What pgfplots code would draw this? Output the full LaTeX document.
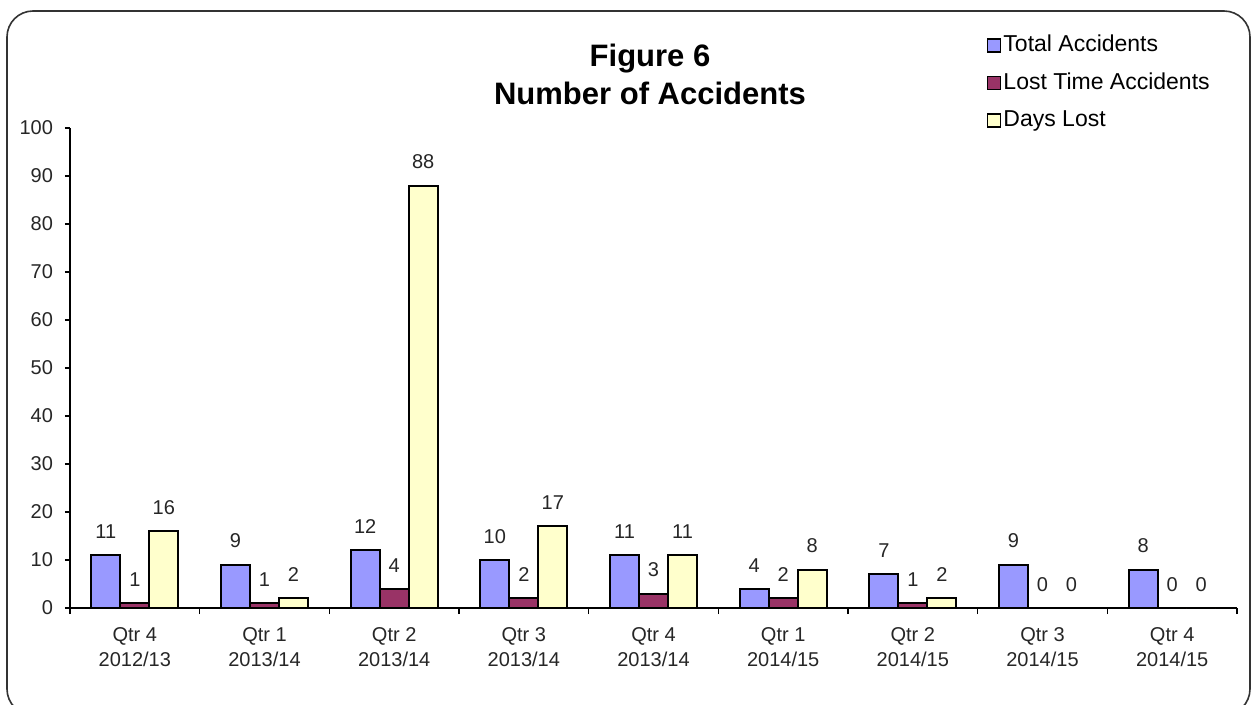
\documentclass[border=0pt]{standalone}
\usepackage{pgfplots}
\pgfplotsset{compat=1.18}
\usepackage{fontspec}
\setmainfont{Liberation Sans}
\definecolor{totalc}{HTML}{9999FF}
\definecolor{lostc}{HTML}{993366}
\definecolor{daysc}{HTML}{FFFFCC}

\begin{document}
\begin{tikzpicture}
\path[use as bounding box] (0,0) rectangle (626.5pt,-352.5pt);
% rounded outer frame
\draw[line width=0.8pt, black!80, rounded corners=13pt] (3.5pt,-5.5pt) rectangle (625pt,-357.5pt);
\begin{axis}[
  at={(35pt,-304pt)}, anchor=south west,
  scale only axis, width=583.5pt, height=240pt,
  xmin=-0.5, xmax=8.5, ymin=0, ymax=100,
  enlargelimits=false,
  ybar, bar width=0.2236,
  axis x line*=bottom, axis y line*=left,
  axis line style={black, line width=0.6pt},
  tick align=outside,
  ytick={0,10,...,100},
  major tick length=2.5pt,
  minor tick length=3pt,
  xtick={0,...,8},
  minor xtick={-0.5,0.5,...,8.5},
  major x tick style={draw=none},
  minor x tick style={black, line width=0.6pt},
  y tick style={black, line width=0.6pt},
  xticklabels={{Qtr 4\\2012/13},{Qtr 1\\2013/14},{Qtr 2\\2013/14},{Qtr 3\\2013/14},{Qtr 4\\2013/14},{Qtr 1\\2014/15},{Qtr 2\\2014/15},{Qtr 3\\2014/15},{Qtr 4\\2014/15}},
  xticklabel style={align=center, font=\fontsize{10}{12.5}\selectfont, text=black!85, yshift=-3.5pt},
  yticklabel style={font=\fontsize{10}{12}\selectfont, text=black!85, xshift=-2.5pt},
  /pgf/number format/assume math mode=true,
  nodes near coords,
  every node near coord/.append style={font=\fontsize{10}{12}\selectfont, text=black!85, yshift=4.5pt},
  title={Figure 6\\Number of Accidents},
  title style={at={(0.497,1.0875)}, anchor=center, align=center, font=\bfseries\fontsize{15.5}{19}\selectfont},
  legend style={at={(0.78,1.206)}, anchor=north west, draw=none, fill=none,
    font=\fontsize{11.5}{13}\selectfont, row sep=6.75pt,
    nodes={text height=8pt, text depth=2pt, inner sep=1pt}},
  legend cell align=left,
  legend image code/.code={\draw[#1, draw=black, line width=0.8pt] (0pt,-3.2pt) rectangle (6.6pt,3.2pt);},
]
\addplot[fill=totalc, draw=black, line width=1pt, bar shift=-0.2236]
  coordinates {(0,11) (1,9) (2,12) (3,10) (4,11) (5,4) (6,7) (7,9) (8,8)};
\addplot[fill=lostc, draw=black, line width=1pt, bar shift=0]
  coordinates {(0,1) (1,1) (2,4) (3,2) (4,3) (5,2) (6,1) (7,0) (8,0)};
\addplot[fill=daysc, draw=black, line width=1pt, bar shift=0.2236]
  coordinates {(0,16) (1,2) (2,88) (3,17) (4,11) (5,8) (6,2) (7,0) (8,0)};
\legend{Total Accidents, Lost Time Accidents, Days Lost}
\end{axis}
\end{tikzpicture}
\end{document}
